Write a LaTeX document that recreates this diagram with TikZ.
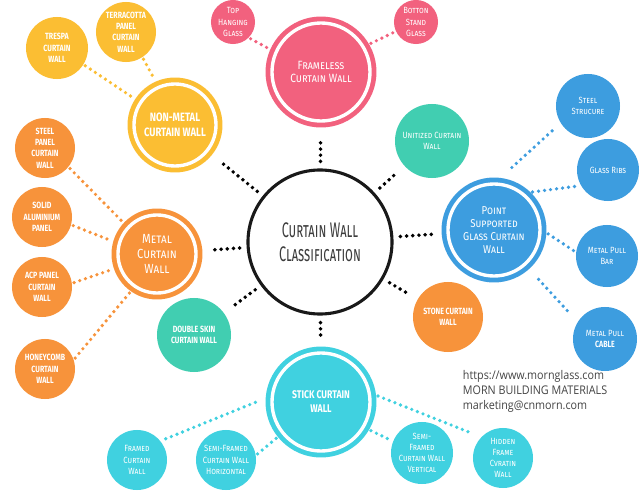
\documentclass[tikz,border=0pt]{standalone}
\usepackage{fontspec}
\setmainfont{Fira Sans}
\newfontfamily\titlefont{Fira Sans}[FakeStretch=0.6]
\newfontfamily\capsfont{Fira Sans}[FakeStretch=0.78]
\newfontfamily\roundfont{Fira Sans}[FakeStretch=0.85]
\newfontfamily\infofont{Open Sans}[FakeStretch=0.9]
\usepackage{tikz}
\usetikzlibrary{positioning}
\definecolor{framepink}{HTML}{F2617E}
\definecolor{nonmetalyellow}{HTML}{FBBE33}
\definecolor{metalorange}{HTML}{F7933B}
\definecolor{unitteal}{HTML}{41CEB1}
\definecolor{pointblue}{HTML}{3D9DDF}
\definecolor{stickcyan}{HTML}{40D1E0}
\definecolor{titlegray}{HTML}{3C3C3C}
\definecolor{infogray}{HTML}{444444}
\tikzstyle{hub} = [circle, inner sep=0pt, align=center, text=white, line width=3.4pt,
  double=white, double distance=2.4pt, outer sep=4.6pt]
\tikzstyle{leaf} = [circle, inner sep=0pt, align=center, text=white, minimum size=1.5cm]
\tikzstyle{capsleaf} = [leaf, font=\capsfont\bfseries\fontsize{6.4}{8}\selectfont]
\tikzstyle{roundleaf} = [leaf, font=\roundfont\scshape\fontsize{6.4}{7.9}\selectfont]
\tikzstyle{spoke} = [line width=2.8pt, line cap=round, dash pattern=on 0pt off 4.4pt,
  shorten <=5pt, shorten >=7pt]
\tikzstyle{twig} = [line width=2.6pt, line cap=round, dash pattern=on 0pt off 4.3pt,
  shorten <=1.5pt, shorten >=1.5pt]

\begin{document}
\begin{tikzpicture}[x=0.025cm, y=-0.025cm]
  \useasboundingbox (0,0) rectangle (640,493);
  \fill[white] (0,0) rectangle (640,493);

  \node (center) [circle, draw=black!90, line width=2.2pt, fill=white, minimum size=3.6cm,
    align=center, text=titlegray, font=\titlefont\scshape\fontsize{15}{17}\selectfont]
    at (320,242) {Curtain Wall\\Classification};

  % main groups
  \node (frameless) [hub, fill=framepink, draw=framepink, minimum size=2.45cm,
    font=\roundfont\scshape\fontsize{8.5}{9.8}\selectfont] at (321,72) {Frameless\\Curtain Wall};
  \node (nonmetal) [hub, fill=nonmetalyellow, draw=nonmetalyellow, minimum size=2.05cm,
    font=\capsfont\bfseries\fontsize{8.6}{10.5}\selectfont] at (175,125) {NON-METAL\\CURTAIN WALL};
  \node (metal) [hub, fill=metalorange, draw=metalorange, minimum size=1.95cm,
    font=\roundfont\scshape\fontsize{9.4}{10.6}\selectfont] at (157,254) {Metal\\Curtain\\Wall};
  \node (point) [hub, fill=pointblue, draw=pointblue, minimum size=2.3cm,
    font=\roundfont\scshape\fontsize{8.1}{9.4}\selectfont] at (494,230) {Point\\Supported\\Glass Curtain\\Wall};
  \node (stick) [hub, fill=stickcyan, draw=stickcyan, minimum size=2.45cm,
    font=\capsfont\bfseries\fontsize{7.9}{10}\selectfont] at (321,402) {STICK CURTAIN\\WALL};
  \node (unitized) [roundleaf, fill=unitteal, minimum size=1.85cm] at (432,141) {Unitized Curtain\\Wall};
  \node (doubleskin) [capsleaf, fill=unitteal, minimum size=1.85cm] at (194,335) {DOUBLE SKIN\\CURTAIN WALL};
  \node (stone) [capsleaf, fill=metalorange, minimum size=1.75cm] at (448,317) {STONE CURTAIN\\WALL};

  % frameless
  \node (tophang) [roundleaf, fill=framepink, minimum size=1.1cm] at (233,22) {Top\\Hanging\\Glass};
  \node (botstand) [roundleaf, fill=framepink, minimum size=1.1cm] at (416,22) {Botton\\Stand\\Glass};

  % non-metal
  \node (trespa) [capsleaf, fill=nonmetalyellow, minimum size=1.55cm] at (57,48) {TRESPA\\CURTAIN\\WALL};
  \node (terracotta) [capsleaf, fill=nonmetalyellow] at (126,32) {TERRACOTTA\\PANEL\\CURTAIN\\WALL};

  % metal
  \node (steelpanel) [capsleaf, fill=metalorange] at (45,148) {STEEL\\PANEL\\CURTAIN\\WALL};
  \node (solidalu) [capsleaf, fill=metalorange] at (42,217) {SOLID\\ALUMINIUM\\PANEL};
  \node (acp) [capsleaf, fill=metalorange] at (42,287) {ACP PANEL\\CURTAIN\\WALL};
  \node (honeycomb) [capsleaf, fill=metalorange] at (45,369) {HONEYCOMB\\CURTAIN\\WALL};

  % point supported
  \node (steelstr) [roundleaf, fill=pointblue, minimum size=1.6cm] at (588,106) {Steel\\Strucure};
  \node (ribs) [roundleaf, fill=pointblue, minimum size=1.55cm] at (608,170) {Glass Ribs};
  \node (pullbar) [roundleaf, fill=pointblue, minimum size=1.55cm] at (607,256) {Metal Pull\\Bar};
  \node (pullcable) [roundleaf, fill=pointblue, minimum size=1.6cm] at (605,339)
    {Metal Pull\\{\capsfont\upshape\bfseries CABLE}};

  % stick
  \node (framed) [roundleaf, fill=stickcyan] at (137,460) {Framed\\Curtain\\Wall};
  \node (semih) [roundleaf, fill=stickcyan] at (226,460) {Semi-Framed\\Curtain Wall\\Horizontal};
  \node (semiv) [roundleaf, fill=stickcyan, minimum size=1.55cm] at (422,453) {Semi-\\Framed\\Curtain Wall\\Vertical};
  \node (hidden) [roundleaf, fill=stickcyan] at (503,458) {Hidden\\Frame\\Cvratin\\Wall};

  \node (info) [anchor=west, align=left, text=infogray,
    font=\infofont\fontsize{8.5}{10.7}\selectfont] at (458,391)
    {https://www.mornglass.com\\MORN BUILDING MATERIALS\\marketing@cnmorn.com};

  \draw[spoke] (center) -- (frameless);
  \draw[spoke] (center) -- (nonmetal);
  \draw[spoke] (center) -- (unitized);
  \draw[spoke] (center) -- (point);
  \draw[spoke] (center) -- (stone);
  \draw[spoke] (center) -- (stick);
  \draw[spoke] (center) -- (doubleskin);
  \draw[spoke] (center) -- (metal);

  \draw[twig, framepink] (tophang.-45) -- (frameless.156);
  \draw[twig, framepink] (frameless.30) -- (botstand.205);
  \draw[twig, nonmetalyellow] (trespa.-32) -- (nonmetal.147);
  \draw[twig, nonmetalyellow] (terracotta.-57) -- (nonmetal.114);
  \draw[twig, metalorange] (steelpanel.-39) -- (metal.137);
  \draw[twig, metalorange] (solidalu.-15) -- (metal.164);
  \draw[twig, metalorange] (acp.7) -- (metal.199);
  \draw[twig, metalorange] (honeycomb.18) -- (metal.235);
  \draw[twig, pointblue, shorten <=11pt, shorten >=5pt] (point.83) -- (steelstr.212);
  \draw[twig, pointblue] (point.46) -- (ribs.210);
  \draw[twig, pointblue] (point.-3) -- (pullbar.173);
  \draw[twig, pointblue, shorten <=10pt, shorten >=9pt] (point.-48) -- (pullcable.148);
  \draw[twig, stickcyan, shorten <=4pt, shorten >=5pt] (framed.39) -- (stick.176);
  \draw[twig, stickcyan] (semih.9) -- (stick.219);
  \draw[twig, stickcyan] (stick.-30) -- (semiv.158);
  \draw[twig, stickcyan, shorten >=8pt] (stick.7) -- (hidden.136);
\end{tikzpicture}
\end{document}
